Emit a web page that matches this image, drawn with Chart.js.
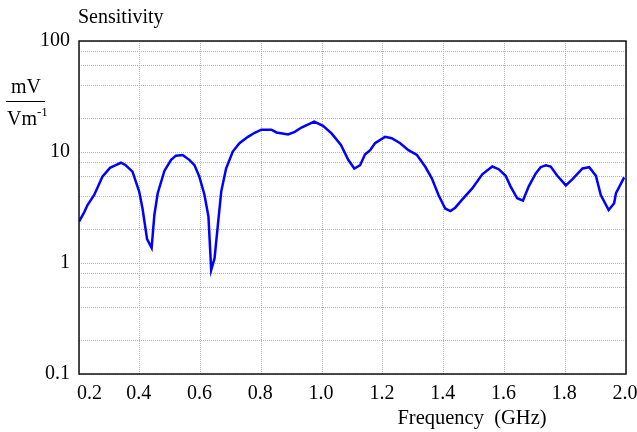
<!DOCTYPE html>
<html>
<head>
<meta charset="utf-8">
<script src="https://cdn.jsdelivr.net/npm/chart.js@4/dist/chart.umd.min.js"></script>
<style>
html,body{margin:0;padding:0;background:#fff;}
canvas{display:block;}
</style>
</head>
<body>
<canvas id="c" width="637" height="432"></canvas>
<script>
// ---- data ----
const freqGHz = [0.200,0.217,0.228,0.250,0.277,0.302,0.321,0.338,0.354,0.376,0.398,0.409,0.424,0.439,0.448,0.459,0.481,0.503,0.519,0.541,0.563,0.580,0.596,0.613,0.626,0.635,0.646,0.657,0.668,0.684,0.706,0.728,0.756,0.778,0.800,0.833,0.850,0.888,0.910,0.932,0.974,1.003,1.031,1.062,1.086,1.106,1.125,1.141,1.158,1.174,1.207,1.229,1.257,1.284,1.312,1.339,1.361,1.383,1.405,1.422,1.438,1.460,1.494,1.527,1.560,1.581,1.604,1.620,1.642,1.661,1.680,1.703,1.719,1.736,1.752,1.774,1.802,1.824,1.857,1.879,1.901,1.917,1.943,1.961,1.967,1.994];
const sensitivity = [2.36,2.86,3.33,4.1,6.0,7.2,7.6,8.0,7.6,6.65,4.4,3.1,1.64,1.37,2.71,4.25,6.75,8.5,9.27,9.4,8.5,7.6,6.0,4.1,2.61,0.865,1.1,2.2,4.4,7.1,10.1,12.0,13.7,14.9,15.9,15.9,15.0,14.4,15.2,16.6,18.8,17.2,14.7,11.6,8.5,7.1,7.6,9.5,10.4,12.0,13.7,13.3,12.0,10.4,9.4,7.4,5.8,4.1,3.1,2.94,3.15,3.7,4.7,6.3,7.4,7.0,6.1,4.9,3.83,3.65,4.9,6.4,7.3,7.6,7.4,6.1,5.0,5.7,7.1,7.3,6.1,4.1,3.0,3.45,4.25,5.9];
const xTickValues = [0.2,0.4,0.6,0.8,1.0,1.2,1.4,1.6,1.8,2.0];
const xTickLabels = ['0.2','0.4','0.6','0.8','1.0','1.2','1.4','1.6','1.8','2.0'];
const yGridValues = [0.1,0.2,0.4,0.6,0.8,1,2,4,6,8,10,20,40,60,80,100];
const yTickValues = [0.1,1,10,100];
const yTickLabels = ['0.1','1','10','100'];
const chartTitle = 'Sensitivity';
const xTitle = 'Frequency  (GHz)';
const yTitleNum = 'mV';
const yTitleDen = 'Vm';
const yTitleSup = '-1';

const FONT = '"Liberation Serif", "Times New Roman", serif';

const points = freqGHz.map((f, i) => ({x: f, y: sensitivity[i]}));

const decor = {
  id: 'decor',
  afterDraw(chart) {
    const ctx = chart.ctx;
    const a = chart.chartArea;
    const xs = chart.scales.x;
    ctx.save();
    // frame
    ctx.strokeStyle = '#111';
    ctx.lineWidth = 1.5;
    ctx.strokeRect(a.left, a.top, a.right - a.left, a.bottom - a.top);
    ctx.fillStyle = '#000';
    // x tick labels
    ctx.font = '20px ' + FONT;
    ctx.textBaseline = 'alphabetic';
    xTickValues.forEach((v, i) => {
      const px = xs.getPixelForValue(v);
      if (i === 0) { ctx.textAlign = 'left'; ctx.fillText(xTickLabels[i], px - 2, 399); }
      else { ctx.textAlign = 'center'; ctx.fillText(xTickLabels[i], px - 1, 399); }
    });
    // chart title
    ctx.textAlign = 'left';
    ctx.font = '20px ' + FONT;
    ctx.fillText(chartTitle, 78, 23);
    // x title
    ctx.textAlign = 'center';
    ctx.font = '20.5px ' + FONT;
    ctx.fillText(xTitle, 472, 424);
    // y title fraction
    ctx.font = '20px ' + FONT;
    ctx.fillText(yTitleNum, 26, 93);
    ctx.strokeStyle = '#000';
    ctx.lineWidth = 1;
    ctx.beginPath();
    ctx.moveTo(6, 101.5);
    ctx.lineTo(45, 101.5);
    ctx.stroke();
    ctx.textAlign = 'left';
    ctx.fillText(yTitleDen, 7, 125);
    const w = ctx.measureText(yTitleDen).width;
    ctx.font = '13px ' + FONT;
    ctx.fillText(yTitleSup, 7 + w, 116);
    ctx.restore();
  }
};

new Chart(document.getElementById('c'), {
  type: 'line',
  data: {
    datasets: [{
      data: points,
      borderColor: '#0000ff',
      borderWidth: 2.5,
      pointRadius: 0,
      tension: 0,
      fill: false
    }]
  },
  options: {
    responsive: false,
    animation: false,
    events: [],
    layout: {padding: {top: 41, right: 11, left: 0, bottom: 0}},
    plugins: {legend: {display: false}, title: {display: false}, tooltip: {enabled: false}},
    scales: {
      x: {
        type: 'linear',
        min: 0.2,
        max: 2.0,
        afterBuildTicks(scale) { scale.ticks = xTickValues.map(v => ({value: v})); },
        afterFit(scale) { scale.height = 58; },
        ticks: {display: false},
        border: {display: false, dash: [1, 1]},
        grid: {
          drawTicks: false,
          color: '#b4b4b4',
          lineWidth: 1
        },
        title: {display: false}
      },
      y: {
        type: 'logarithmic',
        min: 0.1,
        max: 100,
        afterBuildTicks(scale) { scale.ticks = yGridValues.map(v => ({value: v})); },
        afterFit(scale) { scale.width = 79; },
        border: {display: false, dash: [1, 1]},
        grid: {
          drawTicks: false,
          color: '#b4b4b4',
          lineWidth: 1
        },
        ticks: {
          autoSkip: false,
          padding: 9,
          color: '#000',
          font: {family: FONT, size: 20},
          callback(value) {
            const idx = yTickValues.findIndex(t => Math.abs(t - value) < 1e-9);
            return idx >= 0 ? yTickLabels[idx] : '';
          }
        },
        title: {display: false}
      }
    }
  },
  plugins: [decor]
});
</script>
</body>
</html>
